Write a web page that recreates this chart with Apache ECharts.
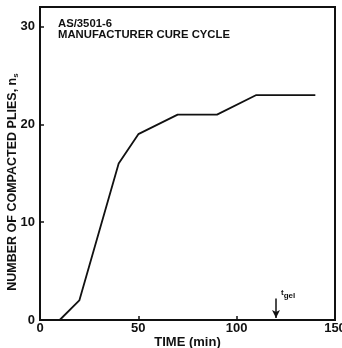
<!DOCTYPE html>
<html>
<head>
<meta charset="utf-8">
<script src="https://cdn.jsdelivr.net/npm/echarts@6/dist/echarts.min.js"></script>
<style>
  html, body { margin: 0; padding: 0; background: #fff; }
  #chart { width: 342px; height: 348px; }
</style>
</head>
<body>
<div id="chart"></div>
<script>
// Compaction of plies during the manufacturer cure cycle
const timeMin = [10, 20, 40, 50, 70, 90, 110, 140];
const compactedPlies = [0, 2, 16, 19, 21, 21, 23, 23];
const xTicks = [0, 50, 100, 150];
const yTicks = [0, 10, 20, 30];
const gelTime = 120;
const titleLines = ['AS/3501-6', 'MANUFACTURER CURE CYCLE'];

const ink = '#111';
const font = 'Liberation Sans';

const chart = echarts.init(document.getElementById('chart'), null, { renderer: 'canvas' });
chart.setOption({
  animation: false,
  backgroundColor: '#fff',
  grid: {
    left: 40, right: 7, top: 7, bottom: 28,
    outerBoundsMode: 'none', containLabel: false,
    show: true, borderColor: ink, borderWidth: 2
  },
  title: {
    text: titleLines.join('\n'),
    left: 58, top: 18, padding: 0,
    textStyle: { fontFamily: font, fontWeight: 'bold', fontSize: 11.3, color: ink, lineHeight: 11 }
  },
  xAxis: {
    type: 'value', min: 0, max: 150, interval: 50,
    name: 'TIME (min)', nameLocation: 'middle', nameGap: 16, nameMoveOverlap: false,
    nameTextStyle: { fontFamily: font, fontWeight: 'bold', fontSize: 13, color: ink },
    axisLine: { show: false },
    axisTick: { show: true, inside: true, length: 4, lineStyle: { color: ink, width: 1.5 } },
    axisLabel: {
      margin: 2, fontFamily: font, fontWeight: 'bold', fontSize: 13, color: ink,
      hideOverlap: false,
      formatter: v => xTicks.includes(v) ? String(v) : ''
    },
    splitLine: { show: false }
  },
  yAxis: {
    type: 'value', min: 0, max: 32, interval: 10,
    name: 'NUMBER OF COMPACTED PLIES, n{s|s}', nameLocation: 'middle', nameGap: 20, nameMoveOverlap: false,
    nameTextStyle: {
      fontFamily: font, fontWeight: 'bold', fontSize: 12.5, color: ink,
      padding: [0, 37, 0, 0],
      rich: { s: { fontFamily: font, fontWeight: 'bold', fontSize: 8, color: ink, verticalAlign: 'bottom', padding: [7, 0, 0, 0] } }
    },
    axisLine: { show: false },
    axisTick: { show: true, inside: true, length: 4, lineStyle: { color: ink, width: 1.5 } },
    axisLabel: {
      margin: 5, fontFamily: font, fontWeight: 'bold', fontSize: 13, color: ink,
      formatter: v => yTicks.includes(v) ? String(v) : ''
    },
    splitLine: { show: false }
  },
  series: [{
    type: 'line',
    data: timeMin.map((t, i) => [t, compactedPlies[i]]),
    symbol: 'none',
    lineStyle: { color: ink, width: 1.8 },
    markLine: {
      silent: true,
      symbol: ['none', 'arrow'],
      symbolSize: [6, 8],
      lineStyle: { color: ink, width: 1.5, type: 'solid' },
      label: { show: false },
      data: [[{ coord: [gelTime, 2.2] }, { coord: [gelTime, 0.2] }]]
    },
    markPoint: {
      silent: true,
      symbol: 'circle',
      symbolSize: 2,
      itemStyle: { color: 'rgba(0,0,0,0)' },
      label: {
        show: true, position: 'right', offset: [-1, 0],
        formatter: 't{g|gel}',
        fontFamily: font, fontWeight: 'bold', fontSize: 8, color: ink,
        rich: { g: { fontFamily: font, fontWeight: 'bold', fontSize: 8, color: ink, padding: [7, 0, 0, 0] } }
      },
      data: [{ coord: [gelTime, 2.8] }]
    }
  }]
});
</script>
</body>
</html>
